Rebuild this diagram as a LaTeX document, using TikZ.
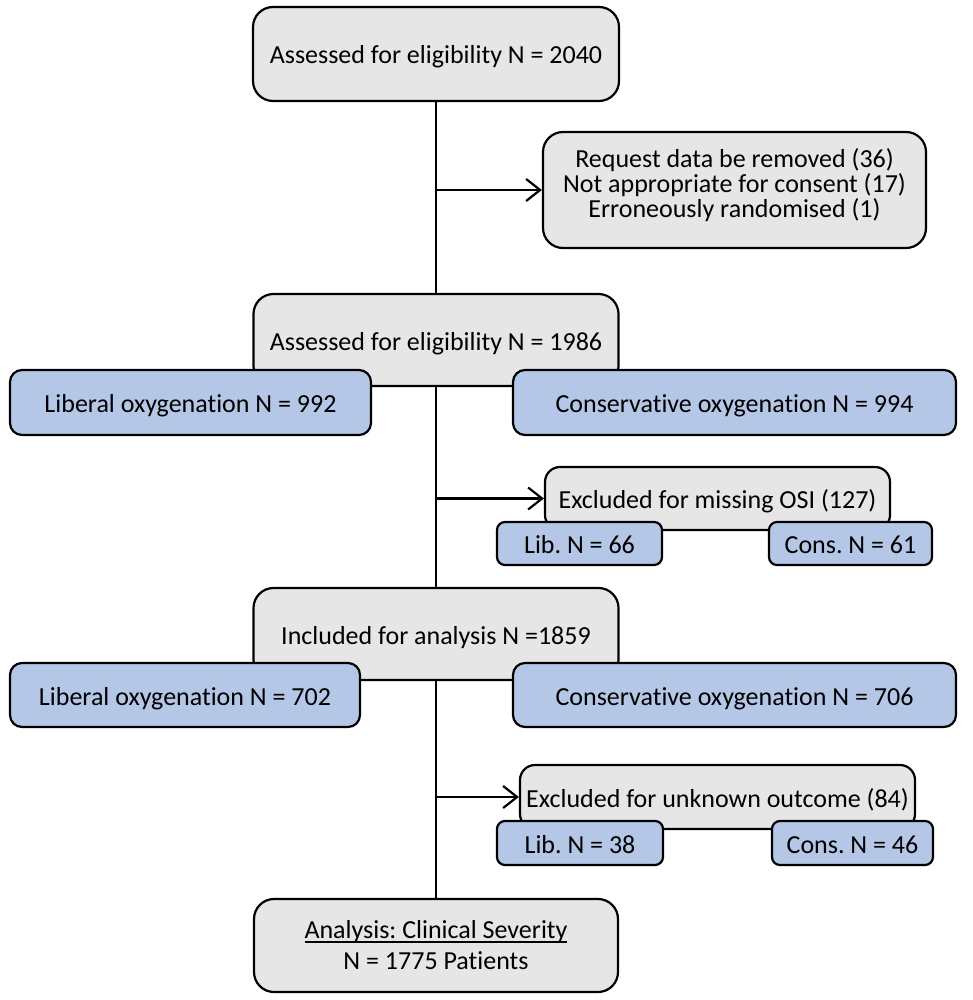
\documentclass[tikz,border=0pt]{standalone}
\usepackage{fontspec}
\setmainfont{Carlito}[Ligatures=CommonOff]
\usetikzlibrary{arrows.meta}
\definecolor{boxgray}{HTML}{E7E6E6}
\definecolor{boxblue}{HTML}{B4C7E7}
\pgfdeclarelayer{background}
\pgfsetlayers{background,main}
\frenchspacing
\newcommand\myul[1]{\leavevmode\setbox0\hbox{#1}\rlap{\rule[-4pt]{\wd0}{1.6pt}}\box0}
\newcommand\tightlines{\frenchspacing\lineskiplimit -100pt\relax\lineskip 0pt\relax}
\newcommand\boxfont{\fontsize{26}{25}\selectfont\tightlines}
\newcommand\lastfont{\fontsize{26}{31}\selectfont\tightlines}
\begin{document}
\begin{tikzpicture}[x=1pt,y=-1pt,
  every node/.style={font=\boxfont,
     inner sep=0pt, draw=black, line width=2.2pt, align=center, text=black},
  one/.style={text height=20pt, text depth=0pt},
  gbox/.style={fill=boxgray, rounded corners=20pt},
  ebox/.style={fill=boxgray, rounded corners=15pt},
  bbox/.style={fill=boxblue, rounded corners=12pt},
  sbox/.style={fill=boxblue, rounded corners=8pt},
  conn/.style={line width=2.2pt},
  arr/.style={conn, -{Straight Barb[length=14pt,width=22pt]}}
]
\useasboundingbox (0,0) rectangle (973,1000);

\node[gbox, one, minimum width=366pt, minimum height=94pt] (b1) at (436,54) {Assessed for eligibility N = 2040};
\node[gbox, minimum width=383pt, minimum height=116pt] (b2) at (734.5,190)
  {Request data be removed (36)\\Not appropriate for consent (17)\\Erroneously randomised (1)\rule[-14pt]{0pt}{1pt}};
\node[gbox, one, minimum width=365pt, minimum height=92pt] (b3) at (436,340) {Assessed for eligibility N = 1986};
\node[bbox, one, minimum width=361pt, minimum height=65pt] (lib1) at (190.5,402.5) {Liberal oxygenation N = 992};
\node[bbox, one, minimum width=443pt, minimum height=65pt] (cons1) at (734.5,402.5) {Conservative oxygenation N = 994};

\node[ebox, one, minimum width=345pt, minimum height=63pt] (ex1) at (717.5,498.5) {Excluded for missing OSI (127)};
\node[sbox, one, minimum width=165pt, minimum height=43pt] (lib1s) at (579.5,543.5) {Lib. N = 66};
\node[sbox, one, minimum width=163pt, minimum height=43pt] (cons1s) at (850.5,543.5) {Cons. N = 61};

\node[gbox, one, minimum width=365pt, minimum height=92pt] (b9) at (436,634) {Included for analysis N =1859};
\node[bbox, one, minimum width=350pt, minimum height=64pt] (lib2) at (185,695) {Liberal oxygenation N = 702};
\node[bbox, one, minimum width=443pt, minimum height=64pt] (cons2) at (734.5,695) {Conservative oxygenation N = 706};

\node[ebox, one, minimum width=395pt, minimum height=64pt] (ex2) at (717.5,797) {Excluded for unknown outcome (84)};
\node[sbox, one, minimum width=166pt, minimum height=44pt] (lib2s) at (580,843) {Lib. N = 38};
\node[sbox, one, minimum width=161pt, minimum height=44pt] (cons2s) at (852.5,843) {Cons. N = 46};

\node[gbox, minimum width=364pt, minimum height=93pt, font=\lastfont] (b15) at (436,945.5)
  {\myul{Analysis: Clinical Severity}\\N = 1775 Patients};

\begin{pgfonlayer}{background}
\draw[conn] (b1.south) -- (b15.north);
\end{pgfonlayer}
\draw[arr] (b1.south |- b2.west) -- (b2.west);
\draw[arr] (b1.south |- ex1.west) -- (ex1.west);
\draw[arr] (b1.south |- ex2.west) -- (ex2.west);
\end{tikzpicture}
\end{document}
